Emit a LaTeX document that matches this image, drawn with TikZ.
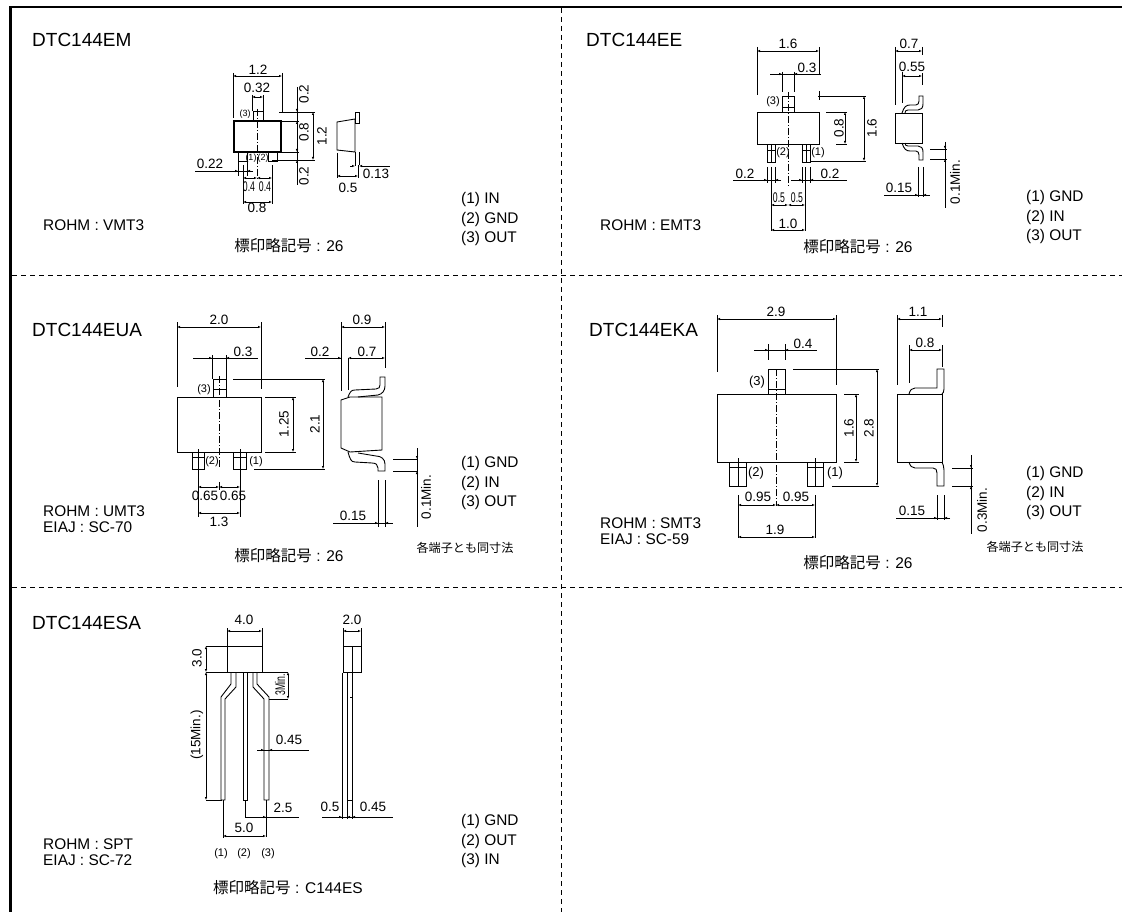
\documentclass[tikz,border=0pt]{standalone}
\usepackage{fontspec}
\setmainfont{Liberation Sans}
\newfontfamily\jpfont{Noto Sans CJK JP}
\tikzset{
  frameline/.style={line width=2.8pt},
  panelline/.style={line width=0.8pt, dash pattern=on 5pt off 4pt},
  partline/.style={line width=0.9pt},
  heavyline/.style={line width=2pt},
  extline/.style={line width=0.6pt},
  centerline/.style={line width=0.5pt, dash pattern=on 7pt off 2pt on 1pt off 2pt},
  dimline/.style={line width=0.6pt, {Latex[length=3pt,width=2.4pt]}-{Latex[length=3pt,width=2.4pt]}},
  tipin/.style={line width=0.6pt, -{Latex[length=3pt,width=2.4pt]}},
  dimtext/.style={font=\fontsize{13.5}{14}\selectfont, inner sep=0pt},
  smalltext/.style={font=\fontsize{9}{10}\selectfont, inner sep=0pt},
  thintext/.style={font=\fontsize{14}{15}\selectfont, inner sep=0pt, xscale=0.62},
  pintext/.style={font=\fontsize{11}{12}\selectfont, inner sep=0pt},
  nametext/.style={font=\fontsize{19}{20}\selectfont, inner sep=0pt, anchor=west},
  pkgtext/.style={font=\fontsize{15.4}{16}\selectfont, inner sep=0pt, anchor=west},
  pinlist/.style={font=\fontsize{15.4}{16}\selectfont, inner sep=0pt, anchor=west},
  marktext/.style={font=\fontsize{15.5}{16}\selectfont, inner sep=0pt},
  notetext/.style={font=\jpfont\fontsize{12.1}{13}\selectfont, inner sep=0pt},
}
\usetikzlibrary{arrows.meta}
\newcommand{\markword}{{\jpfont 標印略記号}}
\begin{document}
\begin{tikzpicture}[x=1pt,y=-1pt]
\useasboundingbox (0,0) rectangle (1122,912);
% panel frame
\draw[frameline] (10.5,912) -- (10.5,7) -- (1122,7);
\draw[panelline] (561.5,8) -- (561.5,912);
\draw[panelline] (12,275) -- (1122,275);
\draw[panelline] (12,587) -- (1122,587);
% titles
\node[nametext] (nameEM) at (32,40) {DTC144EM};
\node[nametext] (nameEE) at (586,40) {DTC144EE};
\node[nametext] (nameUA) at (32,330) {DTC144EUA};
\node[nametext] (nameKA) at (589,330) {DTC144EKA};
\node[nametext] (nameSA) at (32,623) {DTC144ESA};
\node[pkgtext] (pkgEM) at (43,225) {ROHM : VMT3};
\node[pkgtext] (pkgEE) at (600,225) {ROHM : EMT3};
\node[pkgtext] (pkgUA) at (43,511) {ROHM : UMT3};
\node[pkgtext] (eiajUA) at (43,527) {EIAJ : SC-70};
\node[pkgtext] (pkgKA) at (600,523) {ROHM : SMT3};
\node[pkgtext] (eiajKA) at (600,539) {EIAJ : SC-59};
\node[pkgtext] (pkgSA) at (43,844) {ROHM : SPT};
\node[pkgtext] (eiajSA) at (43,860) {EIAJ : SC-72};
\foreach \nm/\xpos/\ypos/\pinone/\pintwo/\pinthree in {EM/461/200/IN/GND/OUT, EE/1026/198/GND/IN/OUT, UA/461/464/GND/IN/OUT, KA/1026/474/GND/IN/OUT, SA/461/822/GND/OUT/IN} {
  \node[pinlist] (pin1\nm) at (\xpos,\ypos) {(1) \pinone};
  \node[pinlist] (pin2\nm) at (\xpos,\ypos+19.5) {(2) \pintwo};
  \node[pinlist] (pin3\nm) at (\xpos,\ypos+39) {(3) \pinthree};
}
\node[marktext] (markEM) at (289,246) {\markword{} : 26};
\node[marktext] (markEE) at (858,247) {\markword{} : 26};
\node[marktext] (markUA) at (289,556) {\markword{} : 26};
\node[marktext] (markKA) at (858,563) {\markword{} : 26};
\node[marktext] (markSA) at (288,888) {\markword{} : C144ES};
\node[notetext] (noteUA) at (465,548) {各端子とも同寸法};
\node[notetext] (noteKA) at (1035,547) {各端子とも同寸法};
% VMT3
\draw[partline] (253,121) rectangle (263,111);
\draw[partline] (238,152) rectangle (247,161);
\draw[partline] (268,152) rectangle (277,161);
\draw[heavyline] (234,121) rectangle (281,152);
\draw[centerline] (257,109) -- (257,180);
\draw[extline] (233,73) -- (233,118) (282,73) -- (282,112);
\draw[dimline] (233,76) -- (282,76);
\node[dimtext] (a1) at (258,70) {1.2};
\draw[extline] (252,95) -- (252,111) (263,95) -- (263,111);
\draw[dimline] (252,97) -- (263,97);
\node[dimtext] (a2) at (257,88) {0.32};
\node[smalltext] (a3) at (245,114) {(3)};
\node[smalltext] (a4) at (251,158) {(1)};
\node[smalltext] (a5) at (263,158) {(2)};
\draw[extline] (279,112) -- (315,112) (282,121) -- (299,121) (277,152) -- (299,152) (272,160) -- (315,160);
\draw[extline] (297,87) -- (297,185);
\draw[tipin] (297,106) -- (297,112);
\draw[tipin] (297,127) -- (297,121);
\draw[tipin] (297,146) -- (297,152);
\draw[tipin] (297,166) -- (297,160);
\draw[dimline] (313,112) -- (313,160);
\node[dimtext, rotate=90] (a6) at (304,94) {0.2};
\node[dimtext, rotate=90] (a7) at (304,132) {0.8};
\node[dimtext, rotate=90] (a8) at (304,176) {0.2};
\node[dimtext, rotate=90] (a9) at (322,136) {1.2};
\draw[partline] (337,122) -- (355,119) -- (355,152) -- (337,150) -- cycle;
\draw[partline] (355,112) rectangle (359,123);
\draw[partline] (355,152) -- (355,165) (359,152) -- (359,165);
\draw[extline] (337,153) -- (337,178) (358,165) -- (358,178);
\draw[dimline] (337,176) -- (358,176);
\node[dimtext] (a10) at (348,188) {0.5};
\draw[extline] (355,160) -- (355,166) (350,166) -- (353,166) (361,166) -- (390,166);
\draw[tipin] (350,166) -- (355,166);
\draw[tipin] (364,166) -- (359,166);
\node[dimtext] (a11) at (376,174) {0.13};
\draw[extline] (195,171) -- (252,171) (238,161) -- (238,176) (247,161) -- (247,176);
\draw[tipin] (232,171) -- (238,171);
\draw[tipin] (253,171) -- (247,171);
\node[dimtext] (a12) at (210,164) {0.22};
\draw[extline] (243,165) -- (243,204) (272,165) -- (272,204);
\draw[dimline] (243,178) -- (257,178);
\draw[dimline] (257,178) -- (272,178);
\draw[dimline] (243,202) -- (272,202);
\node[thintext] (a13) at (249,187) {0.4};
\node[thintext] (a14) at (265,187) {0.4};
\node[dimtext] (a15) at (257,208) {0.8};
% EMT3
\draw[partline] (782,96) rectangle (794,112);
\draw[extline] (782,107) -- (794,107);
\draw[partline] (757,112) rectangle (819,144);
\draw[partline] (767,144) rectangle (775,162);
\draw[partline] (802,144) rectangle (810,162);
\draw[extline] (771,144) -- (771,162) (806,144) -- (806,162) (767,150) -- (775,150) (802,150) -- (810,150);
\draw[centerline] (788,92) -- (788,187);
\draw[extline] (757,47) -- (757,95) (819,47) -- (819,75) (819,91) -- (819,100);
\draw[dimline] (757,51) -- (819,51);
\node[dimtext] (b1) at (788,44) {1.6};
\draw[extline] (770,74) -- (821,74) (782,72) -- (782,92) (794,72) -- (794,92);
\draw[tipin] (776,74) -- (782,74);
\draw[tipin] (800,74) -- (794,74);
\node[dimtext] (b2) at (807,68) {0.3};
\node[pintext] (b3) at (773,102) {(3)};
\node[pintext] (b4) at (783,153) {(2)};
\node[pintext] (b5) at (818,153) {(1)};
\draw[extline] (826,112) -- (847,112) (836,144) -- (847,144);
\draw[dimline] (845,112) -- (845,144);
\node[dimtext, rotate=90] (b6) at (839,128) {0.8};
\draw[extline] (818,96) -- (866,96) (810,161) -- (866,161);
\draw[dimline] (864,96) -- (864,161);
\node[dimtext, rotate=90] (b7) at (872,128) {1.6};
\draw[extline] (733,180) -- (778,180) (791,180) -- (847,180);
\draw[extline] (767,167) -- (767,183) (775,167) -- (775,183) (802,167) -- (802,183) (810,167) -- (810,183);
\draw[tipin] (761,180) -- (767,180);
\draw[tipin] (781,180) -- (775,180);
\draw[tipin] (796,180) -- (802,180);
\draw[tipin] (816,180) -- (810,180);
\node[dimtext] (b8) at (745,174) {0.2};
\node[dimtext] (b9) at (830,174) {0.2};
\draw[extline] (771,167) -- (771,231) (805,167) -- (805,231);
\draw[dimline] (771,205) -- (788,205);
\draw[dimline] (788,205) -- (805,205);
\draw[dimline] (771,230) -- (805,230);
\node[thintext] (b10) at (779,198) {0.5};
\node[thintext] (b11) at (797,198) {0.5};
\node[dimtext] (b12) at (788,224) {1.0};
\draw[partline] (895,113) rectangle (922,143);
\draw[partline] (902,113) .. controls (904,107) and (906,105) .. (910,105) -- (916,105) .. controls (918,105) and (919,103) .. (919,101) -- (919,96) -- (923,96) -- (923,104) .. controls (923,108) and (921,110) .. (918,110) -- (908,110) .. controls (906,110) and (905,111) .. (905,113);
\draw[partline] (902,143) .. controls (904,149) and (906,151) .. (910,151) -- (916,151) .. controls (918,151) and (919,153) .. (919,155) -- (919,160) -- (923,160) -- (923,152) .. controls (923,148) and (921,146) .. (918,146) -- (908,146) .. controls (906,146) and (905,145) .. (905,143);
\draw[extline] (895,47) -- (895,105) (922,47) -- (922,55) (922,73) -- (922,85) (902,72) -- (902,103);
\draw[dimline] (895,51) -- (922,51);
\draw[dimline] (902,76) -- (922,76);
\node[dimtext] (b13) at (909,44) {0.7};
\node[dimtext] (b14) at (912,67) {0.55};
\draw[extline] (930,149) -- (947,149) (930,159) -- (947,159) (945,142) -- (945,208);
\draw[tipin] (945,143) -- (945,149);
\draw[tipin] (945,165) -- (945,159);
\node[dimtext, rotate=90] (b15) at (955,182) {0.1Min.};
\draw[extline] (884,195) -- (930,195) (918,167) -- (918,197) (923,167) -- (923,197);
\draw[tipin] (912,195) -- (918,195);
\draw[tipin] (929,195) -- (923,195);
\node[dimtext] (b16) at (899,188) {0.15};
% UMT3
\draw[partline] (213,379) rectangle (226,397);
\draw[partline] (177,397) rectangle (261,452);
\draw[partline] (192,452) rectangle (204,469);
\draw[partline] (233,452) rectangle (246,469);
\draw[extline] (213,389) -- (226,389) (192,457) -- (204,457) (233,457) -- (246,457) (198,449) -- (198,469) (240,449) -- (240,469);
\draw[centerline] (219,376) -- (219,467);
\draw[extline] (177,322) -- (177,387) (261,322) -- (261,389);
\draw[dimline] (177,327) -- (261,327);
\node[dimtext] (c1) at (219,320) {2.0};
\draw[extline] (193,358) -- (258,358) (212,355) -- (212,379) (226,355) -- (226,379);
\draw[tipin] (206,358) -- (212,358);
\draw[tipin] (232,358) -- (226,358);
\node[dimtext] (c2) at (243,352) {0.3};
\node[pintext] (c3) at (204,390) {(3)};
\node[pintext] (c4) at (212,462) {(2)};
\node[pintext] (c5) at (256,462) {(1)};
\draw[extline] (265,397) -- (296,397) (265,452) -- (296,452);
\draw[dimline] (293,397) -- (293,452);
\node[dimtext, rotate=90] (c6) at (284,424) {1.25};
\draw[extline] (233,379) -- (325,379) (254,469) -- (325,469);
\draw[dimline] (323,379) -- (323,469);
\node[dimtext, rotate=90] (c7) at (315,424) {2.1};
\draw[extline] (198,469) -- (198,517) (240,469) -- (240,517) (219,482) -- (219,490);
\draw[dimline] (198,487) -- (219,487);
\draw[dimline] (219,487) -- (240,487);
\draw[dimline] (198,513) -- (240,513);
\node[dimtext] (c8) at (205,496) {0.65};
\node[dimtext] (c9) at (233,496) {0.65};
\node[dimtext] (c10) at (219,522) {1.3};
\draw[partline] (341,400) -- (350,397) -- (382,397) -- (382,450) -- (350,452) -- (341,448) -- cycle;
\draw[partline] (348,397) .. controls (350,392) and (351,390) .. (355,390) -- (376,389) .. controls (379,389) and (380,387) .. (380,385) -- (380,377) -- (385,377) -- (385,386) .. controls (385,391) and (382,394) .. (378,395) -- (358,397);
\draw[partline] (348,452) .. controls (350,459) and (351,462) .. (355,462) -- (372,463) .. controls (376,463) and (378,465) .. (378,468) -- (378,471) -- (385,471) -- (385,464) .. controls (385,459) and (381,456) .. (376,456) -- (358,453);
\draw[extline] (341,322) -- (341,391) (385,322) -- (385,368) (348,358) -- (348,390);
\draw[dimline] (341,327) -- (385,327);
\node[dimtext] (c11) at (362,320) {0.9};
\draw[extline] (305,358) -- (341,358);
\draw[tipin] (335,358) -- (341,358);
\draw[dimline] (348,358) -- (385,358);
\node[dimtext] (c12) at (320,352) {0.2};
\node[dimtext] (c13) at (367,352) {0.7};
\draw[extline] (393,459) -- (418,459) (393,471) -- (418,471) (417,448) -- (417,527);
\draw[tipin] (417,448) -- (417,459);
\draw[tipin] (417,477) -- (417,471);
\node[dimtext, rotate=90] (c14) at (426,497) {0.1Min.};
\draw[extline] (333,523) -- (393,523) (378,480) -- (378,527) (385,480) -- (385,527);
\draw[tipin] (372,523) -- (378,523);
\draw[tipin] (391,523) -- (385,523);
\node[dimtext] (c15) at (353,516) {0.15};
% SMT3
\draw[partline] (768,369) rectangle (785,394);
\draw[extline] (768,389) -- (785,389);
\draw[partline] (717,394) rectangle (836,462);
\draw[partline] (729,462) rectangle (746,486);
\draw[partline] (807,462) rectangle (823,486);
\draw[extline] (738,458) -- (738,486) (815,458) -- (815,486) (729,467) -- (746,467) (807,467) -- (823,467);
\draw[centerline] (776,369) -- (776,506);
\draw[extline] (717,315) -- (717,372) (836,315) -- (836,385);
\draw[dimline] (717,319) -- (836,319);
\node[dimtext] (d1) at (776,312) {2.9};
\draw[extline] (754,350) -- (817,350) (768,344) -- (768,360) (785,344) -- (785,360);
\draw[tipin] (762,350) -- (768,350);
\draw[tipin] (791,350) -- (785,350);
\node[dimtext] (d2) at (803,344) {0.4};
\node[pintext, font=\fontsize{13}{14}\selectfont] (d3) at (757,382) {(3)};
\node[pintext, font=\fontsize{13}{14}\selectfont] (d4) at (756,473) {(2)};
\node[pintext, font=\fontsize{13}{14}\selectfont] (d5) at (835,473) {(1)};
\draw[extline] (844,394) -- (859,394) (844,462) -- (859,462);
\draw[dimline] (856,394) -- (856,462);
\node[dimtext, rotate=90] (d6) at (849,428) {1.6};
\draw[extline] (793,369) -- (879,369) (832,486) -- (879,486);
\draw[dimline] (877,369) -- (877,486);
\node[dimtext, rotate=90] (d7) at (869,428) {2.8};
\draw[extline] (738,495) -- (738,538) (815,495) -- (815,538);
\draw[dimline] (738,505) -- (776,505);
\draw[dimline] (776,505) -- (815,505);
\draw[dimline] (738,537) -- (815,537);
\node[dimtext] (d8) at (758,497) {0.95};
\node[dimtext] (d9) at (796,497) {0.95};
\node[dimtext] (d10) at (775,530) {1.9};
\draw[partline] (897,394) rectangle (942,462);
\draw[partline] (909,394) .. controls (910,390) and (912,388) .. (915,388) -- (937,388) -- (937,369) -- (944,369) -- (944,389) .. controls (944,392) and (943,393) .. (942,394);
\draw[partline] (909,462) .. controls (910,466) and (912,468) .. (915,468) -- (933,468) .. controls (936,468) and (937,470) .. (937,473) -- (937,486) -- (944,486) -- (944,470) .. controls (944,467) and (943,464) .. (942,462);
\draw[extline] (897,315) -- (897,385) (942,315) -- (942,327) (909,345) -- (909,383) (942,345) -- (942,367);
\draw[dimline] (897,319) -- (942,319);
\draw[dimline] (909,350) -- (942,350);
\node[dimtext] (d11) at (918,312) {1.1};
\node[dimtext] (d12) at (925,343) {0.8};
\draw[extline] (952,468) -- (973,468) (952,486) -- (973,486) (971,455) -- (971,534);
\draw[tipin] (971,460) -- (971,468);
\draw[tipin] (971,492) -- (971,486);
\node[dimtext, rotate=90] (d13) at (982,510) {0.3Min.};
\draw[extline] (896,518) -- (949,518) (937,495) -- (937,520) (944,495) -- (944,520);
\draw[tipin] (931,518) -- (937,518);
\draw[tipin] (950,518) -- (944,518);
\node[dimtext] (d14) at (912,511) {0.15};
% SPT
\draw[partline] (227,646) rectangle (262,672);
\draw[partline] (231,672) -- (231,684) -- (221,697) -- (221,800) -- (225,800) -- (225,699) -- (236,687) -- (236,672);
\draw[partline] (243,672) rectangle (247,800);
\draw[partline] (253,672) -- (253,687) -- (264,699) -- (264,800) -- (269,800) -- (269,697) -- (257,684) -- (257,672);
\draw[extline] (227,628) -- (227,646) (262,628) -- (262,646);
\draw[dimline] (227,631) -- (262,631);
\node[dimtext] (e1) at (244,620) {4.0};
\draw[extline] (206,646) -- (227,646) (206,672) -- (227,672) (206,800) -- (222,800);
\draw[dimline] (206,646) -- (206,672);
\draw[dimline] (206,672) -- (206,800);
\node[dimtext, rotate=90] (e2) at (197,658) {3.0};
\node[dimtext, rotate=90] (e3) at (197,735) {(15Min.)};
\draw[extline] (262,672) -- (288,672) (269,699) -- (288,699);
\draw[dimline] (288,672) -- (288,699);
\node[rotate=90, thintext] (e4) at (280,685) {3Min.};
\draw[extline] (257,750) -- (309,750);
\draw[tipin] (258,750) -- (264,750);
\draw[tipin] (275,750) -- (269,750);
\node[dimtext] (e5) at (289,740) {0.45};
\draw[extline] (245,800) -- (245,817) -- (299,817) (266,800) -- (266,837) (223,800) -- (223,838);
\draw[tipin] (260,817) -- (266,817);
\draw[dimline] (223,836) -- (266,836);
\node[dimtext] (e6) at (283,808) {2.5};
\node[dimtext] (e7) at (244,828) {5.0};
\node[pintext] (e8) at (221,854) {(1)};
\node[pintext] (e9) at (244,854) {(2)};
\node[pintext] (e10) at (268,854) {(3)};
\draw[partline] (343,646) rectangle (361,672);
\draw[extline] (352,646) -- (352,672);
\draw[partline] (347,672) rectangle (352,800);
\draw[extline] (350,697) -- (352,697);
\draw[extline] (343,628) -- (343,646) (361,628) -- (361,646);
\draw[dimline] (343,631) -- (361,631);
\node[dimtext] (e11) at (352,620) {2.0};
\draw[extline] (342,673) -- (342,819) (347,800) -- (347,819) (352,800) -- (352,819);
\draw[extline] (322,817) -- (393,817);
\draw[tipin] (336,817) -- (342,817);
\draw[tipin] (353,817) -- (347,817);
\draw[tipin] (358,817) -- (352,817);
\node[dimtext] (e12) at (330,807) {0.5};
\node[dimtext] (e13) at (373,807) {0.45};
\end{tikzpicture}
\end{document}
